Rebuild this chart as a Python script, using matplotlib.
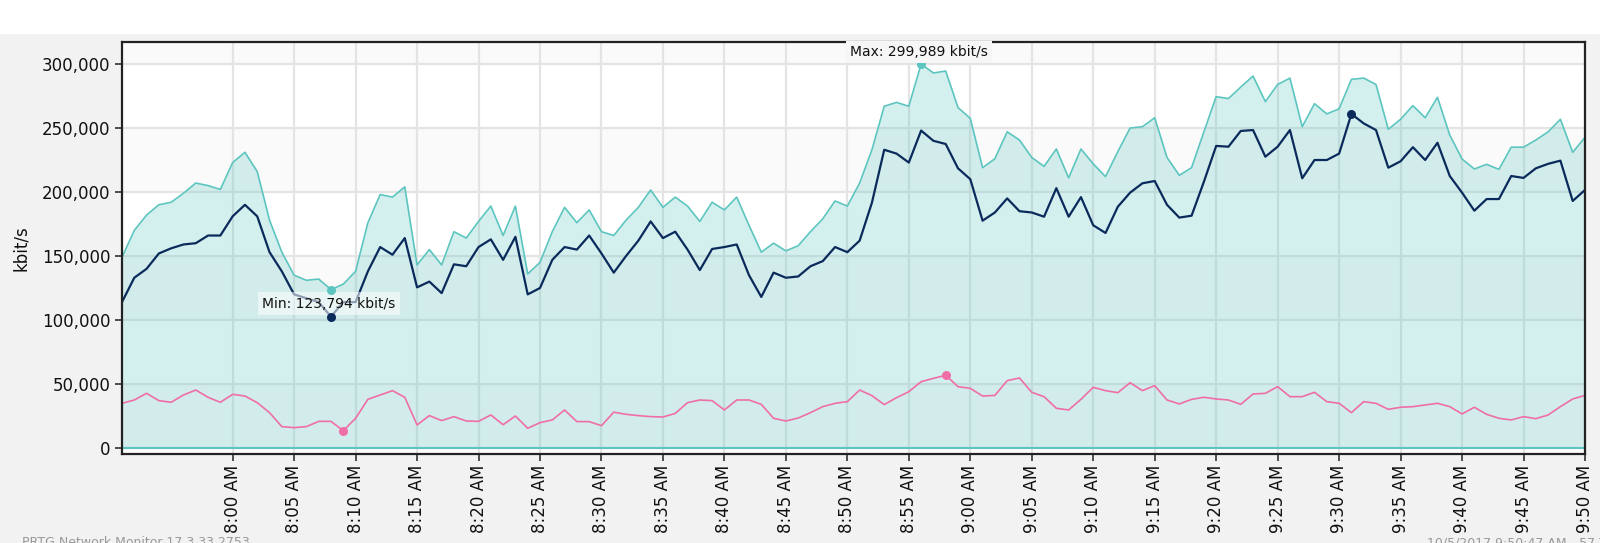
import numpy as np
import pandas as pd
import matplotlib
matplotlib.use('Agg')
import matplotlib.pyplot as plt
import matplotlib.dates as mdates
from matplotlib.ticker import FuncFormatter
from matplotlib.patches import Rectangle

# one sample per minute, 7:51 -> 9:50 (kbit/s)
times = pd.date_range('2017-10-05 07:51', periods=120, freq='1min')

traffic_max = [
    149, 170, 182, 190, 192, 199, 207, 205, 202, 223, 231, 216, 178, 153, 135, 131, 132, 123.794, 128, 138,
    176, 198, 196, 204, 143, 155, 143, 169, 164, 177, 189, 166, 189, 136, 145, 169, 188, 176, 186, 169,
    166, 178, 188, 201.6, 188, 196, 189, 177, 192, 186, 196, 174, 153, 160, 154, 158, 169, 179, 193, 189,
    207, 233, 267, 270, 267, 299.989, 293, 294.5, 266, 257.5, 219, 226, 247, 240.6, 227, 220, 233.6, 211, 233.6, 222,
    212, 231.5, 250, 251, 258, 227, 213, 219, 247, 274.5, 273, 282, 290.6, 270.6, 284, 289, 251, 269, 261, 265,
    288, 289, 284, 249, 256.8, 267.5, 258, 274, 244.5, 225.8, 218, 221.6, 217.7, 235, 235, 240.6, 247, 256.8, 231, 242.7,
]
traffic_avg = [
    114, 133, 140, 152, 156, 159, 160, 166, 166, 181, 190, 181, 153, 138, 120, 117, 114, 102.6, 114, 114,
    138, 157, 151, 164, 125.5, 130, 121, 143.5, 142, 157, 163, 147, 165, 120, 125, 147, 157, 155, 166, 152,
    137, 150, 162, 177, 164, 169, 155, 139, 155.5, 157, 159, 135, 118, 137, 133, 134, 142, 146, 157, 153,
    162, 191.7, 233, 230, 223, 248, 240, 237.5, 218.5, 210, 177.6, 184, 195, 185, 184, 180.7, 203, 180.7, 196, 174,
    168, 188.5, 199.5, 206.8, 208.6, 190, 180, 181.5, 208, 236, 235.4, 247.7, 248.4, 227.6, 235.4, 248.4, 210.7, 225, 225, 230,
    261, 253.6, 248.4, 219, 224, 235, 225, 238.5, 212.5, 199.5, 185.4, 194.5, 194.5, 212.5, 211, 218.5, 222, 224.5, 193, 201.6,
]
traffic_min = [
    34.9, 37.5, 42.7, 37, 35.7, 41.4, 45.3, 39.6, 35.7, 41.9, 40.6, 35.4, 27.6, 16.7, 15.9, 16.7, 20.8, 20.8, 13.5, 23.2,
    38, 41.4, 44.8, 39.6, 18, 25.3, 21.4, 24.5, 21.1, 20.8, 25.8, 18.2, 25, 15.4, 19.8, 21.9, 29.7, 20.6, 20.6, 17.4,
    28, 26.3, 25.3, 24.5, 24.2, 27, 35.4, 37.5, 37, 29.7, 37.5, 37.5, 34.1, 23.2, 21.1, 23.4, 27.6, 32.3, 34.9, 36.2,
    45.3, 40.9, 33.9, 39.3, 44, 51.8, 54.4, 56.8, 47.9, 46.6, 40.6, 41.1, 52.6, 54.7, 43.5, 40.1, 31, 29.7, 38, 47.4,
    44.8, 43.2, 51, 44.8, 48.7, 37.5, 34.4, 38, 39.6, 38.3, 37.5, 34.1, 42.2, 42.7, 47.9, 40.1, 40.1, 43.5, 36.2, 34.9,
    27.6, 36.2, 34.9, 30.2, 31.8, 32.3, 33.6, 34.9, 32.3, 26.6, 31.8, 26.3, 23.2, 21.9, 24.5, 22.9, 25.8, 32.3, 38.3, 41.1,
]

traffic_max = np.array(traffic_max) * 1000
traffic_avg = np.array(traffic_avg) * 1000
traffic_min = np.array(traffic_min) * 1000

TEAL = '#5cc5bf'
NAVY = '#0b2a5c'
PINK = '#f06ea8'

fig = plt.figure(figsize=(16, 5.43), dpi=100, facecolor='#f2f2f2')
fig.add_artist(Rectangle((0, 1 - 34 / 543), 1, 34 / 543, transform=fig.transFigure,
                         facecolor='white', edgecolor='none', zorder=0))
ax = fig.add_axes([122 / 1600, 1 - 454 / 543, 1463 / 1600, 412 / 543])
ax.set_facecolor('white')

y_lo, y_hi = -4700, 317200
# alternating plot bands
for lo, hi in [(300000, y_hi), (200000, 250000), (100000, 150000), (0, 50000)]:
    ax.axhspan(lo, hi, color='#fafafa', lw=0, zorder=0.1)

ax.set_axisbelow(True)
ax.grid(True, color='#e4e4e4', lw=1.6, zorder=0.5)

ax.fill_between(times, 0, traffic_max, color=TEAL, alpha=0.26, lw=0, zorder=1)
ax.axhline(0, color=TEAL, lw=1.5, zorder=1.5)
ax.plot(times, traffic_max, color=TEAL, lw=1.2, zorder=2)
ax.plot(times, traffic_min, color=PINK, lw=1.2, zorder=2)
ax.plot(times, traffic_avg, color=NAVY, lw=1.6, zorder=2.2)

for series, col in [(traffic_max, TEAL), (traffic_avg, NAVY), (traffic_min, PINK)]:
    for idx in (np.argmin(series), np.argmax(series)):
        ax.plot(times[idx], series[idx], 'o', color=col, ms=6.5, mec='none', zorder=5)

i_hi = np.argmax(traffic_max)
i_lo = np.argmin(traffic_max)
ax.annotate(f'Max: {traffic_max[i_hi]:,.0f} kbit/s', xy=(times[i_hi], traffic_max[i_hi]),
            xytext=(-2, 12), textcoords='offset pixels', ha='center', va='center', fontsize=10,
            color='#111', annotation_clip=False, zorder=6,
            bbox=dict(boxstyle='square,pad=0.3', facecolor='#f6f6f6', edgecolor='none'))
ax.annotate(f'Min: {traffic_max[i_lo]:,.0f} kbit/s', xy=(times[i_lo], traffic_max[i_lo]),
            xytext=(-2, -14), textcoords='offset pixels', ha='center', va='center', fontsize=10,
            color='#111', zorder=4,
            bbox=dict(boxstyle='square,pad=0.3', facecolor='white', alpha=0.55, edgecolor='none'))

ax.set_xlim(times[0], times[-1])
ax.set_ylim(y_lo, y_hi)
ax.set_xticks(pd.date_range('2017-10-05 08:00', '2017-10-05 09:50', freq='5min'))
ax.xaxis.set_major_formatter(FuncFormatter(
    lambda v, pos: mdates.num2date(v).strftime('%I:%M %p').lstrip('0')))
ax.set_yticks(np.arange(0, 300001, 50000))
ax.yaxis.set_major_formatter(FuncFormatter(lambda v, pos: f'{v:,.0f}'))
ax.tick_params(axis='both', labelsize=12, length=5, width=1.2, color='#333', labelcolor='#111')
ax.tick_params(axis='x', labelrotation=90, pad=3)

for sp in ax.spines.values():
    sp.set_color('#222')
    sp.set_linewidth(1.6)

ax.set_ylabel('kbit/s', fontsize=12, color='#111')
ax.yaxis.set_label_coords(-(122 - 30) / 1463, 0.5)

fig.text(22 / 1600, 1 - 536 / 543, 'PRTG Network Monitor 17.3.33.2753', va='top',
         fontsize=9, color='#999')
fig.text(1427 / 1600, 1 - 536 / 543, '10/5/2017 9:50:47 AM - 57 Traffic', va='top',
         fontsize=9, color='#999')

fig.savefig('out.png', dpi=100, facecolor=fig.get_facecolor())
